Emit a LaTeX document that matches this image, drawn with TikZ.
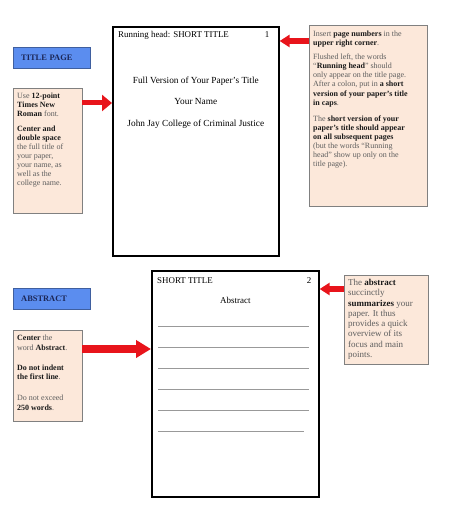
\documentclass[tikz,border=0pt]{standalone}
\usepackage{fontspec}
\setmainfont{Liberation Serif}
\usetikzlibrary{arrows.meta, positioning, calc}
\definecolor{colorEtiqueta}{HTML}{5B8DEF}
\definecolor{bordeEtiqueta}{HTML}{3F5F9F}
\definecolor{textoEtiqueta}{HTML}{1C2757}
\definecolor{fondoNota}{HTML}{FCE8DA}
\definecolor{bordeNota}{HTML}{808080}
\definecolor{textoNota}{HTML}{5E5E5E}
\definecolor{negritaNota}{HTML}{1A1A1A}
\definecolor{flecha}{HTML}{E8141B}
\newcommand{\hl}[1]{\textbf{\color{negritaNota}#1}}
\newcommand{\notetext}[3]{\parbox[c][#1][t]{#2}{\raggedright #3}}

\begin{document}
\begin{tikzpicture}[
        x=1pt, y=-1pt,
        lbl/.style={draw=bordeEtiqueta, fill=colorEtiqueta, anchor=north west, inner sep=0pt,
            minimum width=77pt, minimum height=21pt, text width=61pt, align=left,
            font=\fontsize{8.4}{9}\selectfont\bfseries, text=textoEtiqueta},
        note/.style={draw=bordeNota, fill=fondoNota, anchor=north west, inner xsep=4pt, inner ysep=5pt,
            text=textoNota, font=\fontsize{8}{9}\selectfont},
        page/.style={draw=black, line width=1.6pt, anchor=north west, inner sep=0pt},
        ptext/.style={font=\fontsize{9.3}{10}\selectfont, inner sep=0pt},
        rule/.style={draw=gray!80, line width=0.8pt},
        big/.style args={#1/#2}{-{Triangle[length=#1, width=#2]}, draw=flecha}
    ]
        \useasboundingbox (0,0) rectangle (450,510);

        % title page
        \node[page, minimum width=166pt, minimum height=229pt] (tpage) at (112,26) {};
        \node[ptext, anchor=base west, font=\fontsize{8.9}{9}\selectfont] (rhead) at ([xshift=6pt,yshift=-12pt]tpage.north west) {Running head: SHORT TITLE};
        \node[ptext, anchor=base east, font=\fontsize{8.9}{9}\selectfont] (pnum1) at ([xshift=-10pt,yshift=-12pt]tpage.north east) {1};
        \node[ptext, anchor=base] (ftitle) at ([yshift=-58pt]tpage.north) {Full Version of Your Paper's Title};
        \node[ptext, below=21pt of ftitle.base, anchor=base] (yname) {Your Name};
        \node[ptext, below=22pt of yname.base, anchor=base] (college) {John Jay College of Criminal Justice};

        \node[lbl] (lblt) at (13,47) {TITLE PAGE};
        \node[note] (nlt) at (13,88) {\notetext{115pt}{61pt}{%
            Use \hl{12-point}\\ \hl{Times New}\\ \hl{Roman} font.\\[6pt]
            \hl{Center and}\\ \hl{double space}\\ the full title of\\ your paper,\\
            your name, as\\ well as the\\ college name.}};
        \node[note, inner ysep=6pt, font=\fontsize{8}{9.05}\selectfont] (nrt) at (309,25) {\notetext{169pt}{110pt}{%
            Insert \hl{page numbers} in the\\ \hl{upper right corner}.\\[5pt]
            Flushed left, the words\\ ``\hl{Running head}'' should\\ only appear on the title page.\\
            After a colon, put in \hl{a short}\\ \hl{version of your paper's title}\\ \hl{in caps}.\\[7.5pt]
            The \hl{short version of your}\\ \hl{paper's title should appear}\\ \hl{on all subsequent pages}\\
            (but the words ``Running\\ head'' show up only on the\\ title page).}};

        \draw[big=10pt/16pt, line width=5pt] ([yshift=-15pt]nlt.north east) -- ([yshift=-15pt]nlt.north east -| tpage.west);
        \draw[big=10pt/12pt, line width=6pt] ([yshift=-16pt]nrt.north west) -- ([yshift=-16pt]nrt.north west -| tpage.east);

        % abstract page
        \node[page, minimum width=167pt, minimum height=226pt] (apage) at (151,270) {};
        \node[ptext, anchor=base west, font=\fontsize{8.9}{9}\selectfont] (shead) at ([xshift=6pt,yshift=-13pt]apage.north west) {SHORT TITLE};
        \node[ptext, anchor=base east, font=\fontsize{8.9}{9}\selectfont] (pnum2) at ([xshift=-8pt,yshift=-13pt]apage.north east) {2};
        \node[ptext, anchor=base, font=\fontsize{9}{9}\selectfont] (abst) at ([yshift=-33pt]apage.north) {Abstract};
        \foreach \d/\len in {56/151, 77/151, 98/151, 119/151, 140/151, 161/146}
            \draw[rule] ([xshift=7pt,yshift=-\d pt]apage.north west) -- ++(\len,0);

        \node[lbl] (lbla) at (13,288) {ABSTRACT};
        \node[note, font=\fontsize{8}{9.3}\selectfont] (nla) at (13,330) {\notetext{81pt}{61pt}{%
            \hl{Center} the\\ word \hl{Abstract}.\\[11pt]
            \hl{Do not indent}\\ \hl{the first line}.\\[12pt]
            Do not exceed\\ \hl{250 words}.}};
        \node[note, inner ysep=4pt, font=\fontsize{9}{10.3}\selectfont] (nra) at (344,275) {\notetext{81pt}{76pt}{%
            The \hl{abstract}\\ succinctly\\ \hl{summarizes} your\\ paper. It thus\\
            provides a quick\\ overview of its\\ focus and main\\ points.}};

        \draw[big=15pt/17pt, line width=8pt] ([yshift=-19pt]nla.north east) -- ([yshift=-19pt]nla.north east -| apage.west);
        \draw[big=10pt/12pt, line width=6pt] ([yshift=-14pt]nra.north west) -- ([yshift=-14pt]nra.north west -| apage.east);
    \end{tikzpicture}
\end{document}
